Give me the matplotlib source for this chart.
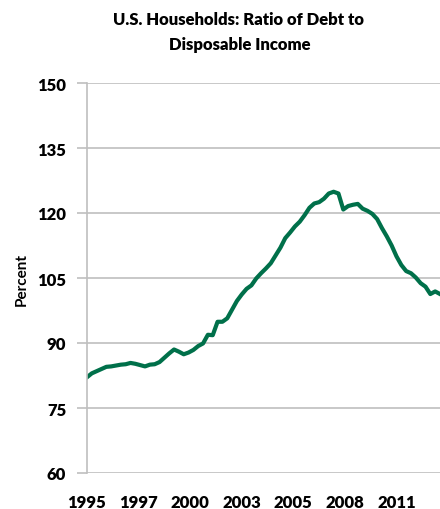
import matplotlib.pyplot as plt
import numpy as np

plt.rcParams['font.family'] = ['Lato', 'DejaVu Sans']

# quarterly ratio of household debt to disposable income, 1995Q1 onward
ratio = [82.1, 83.0, 83.5, 84.0, 84.5, 84.6, 84.8, 85.0, 85.1, 85.4,
         85.2, 84.9, 84.6, 85.0, 85.1, 85.6, 86.6, 87.6, 88.5, 88.0,
         87.4, 87.8, 88.4, 89.3, 89.9, 91.9, 91.8, 94.9, 94.9, 95.7,
         97.7, 99.7, 101.2, 102.5, 103.3, 104.9, 106.1, 107.2, 108.4, 110.2,
         112.0, 114.2, 115.5, 116.9, 118.0, 119.5, 121.2, 122.2, 122.5, 123.3,
         124.5, 124.9, 124.5, 120.8, 121.6, 121.9, 122.1, 121.0, 120.5, 119.8,
         118.6, 116.5, 114.6, 112.5, 110.0, 108.0, 106.6, 106.1, 105.1, 103.8,
         103.0, 101.3, 101.9, 101.3]
start_year = 1995
tick_labels = ['1995', '1997', '2000', '2003', '2005', '2008', '2011']
y_ticks = [60, 75, 90, 105, 120, 135, 150]

years = start_year + np.arange(len(ratio)) / 4.0
tick_pos = start_year + np.arange(len(tick_labels)) * 8 / 3

fig = plt.figure(figsize=(4.4, 5.1), dpi=100)
ax = fig.add_axes([87 / 440, 36 / 510, 353 / 440, 390 / 510])

ax.plot(years, ratio, color='#00704A', linewidth=3.0, solid_joinstyle='round')

ax.set_ylim(60, 150)
ax.set_yticks(y_ticks)
ax.set_yticklabels([str(v) for v in y_ticks], fontsize=12, fontweight='heavy')
ax.set_xlim(start_year, years[-1])
ax.set_xticks(tick_pos)
ax.set_xticklabels(tick_labels, fontsize=12, fontweight='heavy')

ax.grid(axis='y', color='#BFBFBF', linewidth=1.2)
ax.set_axisbelow(True)
for s in ['top', 'right', 'bottom']:
    ax.spines[s].set_visible(False)
ax.spines['left'].set_color('#BFBFBF')
ax.spines['left'].set_linewidth(1.2)
ax.tick_params(axis='y', length=7, color='#BFBFBF', width=1.2, pad=8)
ax.tick_params(axis='x', length=0, pad=15)

ax.set_ylabel('Percent', fontsize=11, fontweight='bold', labelpad=6)

fig.text(238 / 440, 1 - 20 / 510, 'U.S. Households: Ratio of Debt to',
         ha='center', va='center', fontsize=12, fontweight='heavy')
fig.text(240 / 440, 1 - 45 / 510, 'Disposable Income',
         ha='center', va='center', fontsize=12, fontweight='heavy')

fig.savefig('out.png', dpi=100)
